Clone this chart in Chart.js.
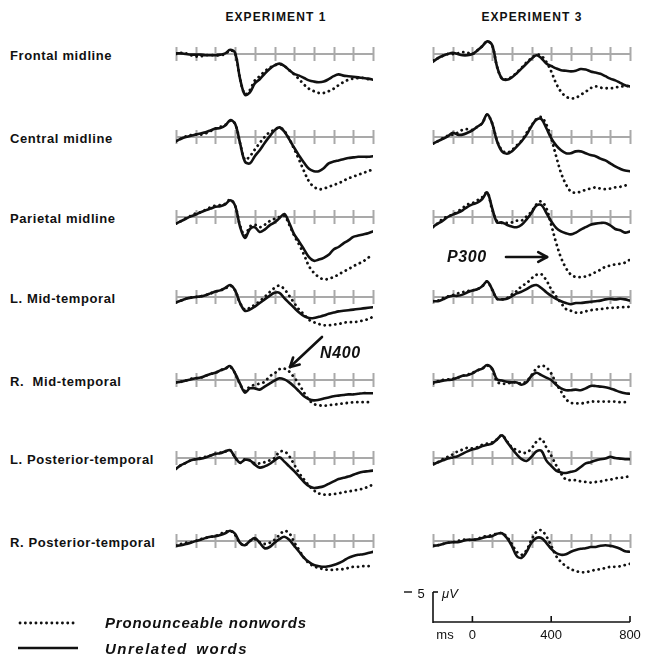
<!DOCTYPE html>
<html>
<head>
<meta charset="utf-8">
<script src="https://cdn.jsdelivr.net/npm/chart.js@4/dist/chart.umd.min.js"></script>
<style>
  html, body { margin: 0; padding: 0; background: #fff; }
  #page { position: relative; width: 646px; height: 659px; overflow: hidden; font-family: "Liberation Sans", Arial, sans-serif; color: #111; }
  #page canvas { position: absolute; }
  .lbl { position: absolute; font-weight: bold; font-size: 13px; letter-spacing: 0.6px; white-space: nowrap; transform: translateY(-50%); }
  .head { position: absolute; font-weight: bold; font-size: 12px; letter-spacing: 1.1px; white-space: nowrap; transform: translateX(-50%); }
  .anno { position: absolute; font-weight: bold; font-style: italic; font-size: 16px; letter-spacing: 0.6px; white-space: nowrap; transform: translateY(-50%); }
  .leg { position: absolute; font-weight: bold; font-style: italic; font-size: 15px; letter-spacing: 0.8px; white-space: nowrap; transform: translateY(-50%); }
  .sc { position: absolute; font-size: 13px; white-space: nowrap; transform: translate(-50%, -50%); }
  svg { position: absolute; left: 0; top: 0; }
</style>
</head>
<body>
<div id="page"></div>
<script>
// Time base (ms) shared by every waveform
const TIMES = [-200,-175,-150,-125,-100,-75,-50,-25,0,25,50,75,100,125,150,175,200,225,250,275,300,
               325,350,375,400,425,450,475,500,525,550,575,600,625,650,675,700,725,750,775,800];
const TICK_MS = [-200,-100,0,100,200,300,400,500,600,700,800];
const SCALE_MS = [0, 400, 800];

// Amplitudes in microvolts (positive plotted downward)
// Experiment 1
const frontalE1Words = [-0.1,-0.1,0,0.1,0.1,0.1,0.2,0.2,0.2,0.1,-0.1,-0.7,-0.2,4.1,6.8,6.4,4.9,4.2,3.3,2.5,1.9,1.6,2.0,2.7,3.3,3.6,4.0,4.4,4.6,4.7,4.6,4.2,3.7,3.4,3.6,3.7,3.8,3.9,4.0,4.1,4.3];
const frontalE1Nonwords = [0,-0.2,-0.1,0.2,0.4,0.4,0.2,0.2,0.2,0.2,0,-0.6,-0.1,4.1,6.7,6.0,4.4,3.7,2.9,2.3,1.9,1.7,2.0,2.7,3.4,4.2,5.1,5.8,6.2,6.5,6.5,6.2,5.8,5.2,4.7,4.3,4.1,4.0,4.0,4.2,4.3];
const centralE1Words = [0.7,0.3,0,-0.2,-0.4,-0.6,-0.8,-1.1,-1.4,-1.5,-1.9,-2.8,-2.2,1.0,4.1,4.4,3.2,2.2,1.0,-0.1,-1.1,-1.6,-0.9,0.4,1.8,3.1,4.3,5.3,5.7,5.7,5.2,4.4,4.1,3.9,3.7,3.5,3.4,3.3,3.3,3.3,3.2];
const centralE1Nonwords = [0.7,0.3,-0.1,-0.3,-0.4,-0.4,-0.6,-1.0,-1.4,-1.7,-2.0,-2.7,-2.2,1.0,3.8,3.2,2.1,1.0,0,-0.8,-1.2,-1.6,-1.0,0.3,2.0,3.8,5.7,7.4,8.3,8.7,8.6,8.3,8.0,7.7,7.3,6.9,6.6,6.3,6.0,5.7,5.4];
const parietalE1Words = [1.1,0.7,0.3,-0.1,-0.4,-0.8,-1.1,-1.4,-1.7,-1.8,-2.1,-2.8,-1.9,1.6,3.5,2.0,1.7,2.5,2.1,1.4,0.9,0.2,-0.5,1.0,2.9,4.1,5.4,6.7,7.3,7.1,6.8,6.3,5.4,5.0,4.4,3.9,3.3,3.1,2.9,2.7,2.4];
const parietalE1Nonwords = [1.1,0.7,0.2,-0.2,-0.6,-0.8,-1.2,-1.6,-1.9,-2.0,-2.2,-2.9,-1.9,1.4,3.1,1.6,1.3,1.7,1.3,0.7,0.3,0,-0.2,1.3,3.1,4.6,6.3,8.2,9.3,10.0,10.4,10.3,10.0,9.6,9.1,8.7,8.2,7.8,7.4,6.8,6.3];
const lMidTempE1Words = [0.9,0.6,0.3,0.1,0,-0.1,-0.3,-0.6,-0.9,-1.1,-1.5,-2.0,-1.1,1.0,2.3,2.1,1.6,1.0,0.4,-0.2,-0.7,-0.7,0.2,1.0,1.8,2.6,3.2,3.5,3.5,3.3,3.1,2.8,2.6,2.4,2.3,2.2,2.1,2.0,1.9,1.8,1.7];
const lMidTempE1Nonwords = [0.9,0.6,0.3,0.1,0,-0.1,-0.3,-0.6,-0.9,-1.1,-1.4,-1.9,-1.1,1.0,2.1,1.8,1.3,0.7,0,-0.8,-1.5,-1.9,-1.3,-0.2,1.0,2.1,2.9,3.8,4.2,4.5,4.7,4.7,4.6,4.5,4.3,4.2,4.2,4.1,3.9,3.7,3.3];
const rMidTempE1Words = [0.4,0.3,0.1,-0.1,-0.3,-0.4,-0.7,-1.0,-1.2,-1.6,-1.9,-2.3,-1.1,0.6,2.1,1.4,1.4,1.6,1.1,0.6,0.1,-0.3,-0.1,0.4,1.1,1.9,2.7,3.2,3.4,3.3,3.1,2.9,2.7,2.6,2.5,2.4,2.4,2.3,2.2,2.2,2.2];
const rMidTempE1Nonwords = [0.4,0.3,0.1,-0.2,-0.3,-0.4,-0.7,-1.0,-1.2,-1.6,-1.9,-2.2,-1.1,0.7,1.8,1.1,0.8,0.6,0.3,-0.6,-1.1,-1.8,-1.9,-1.4,-0.4,0.7,2.1,3.3,4.0,4.2,4.3,4.2,4.1,4.0,3.9,3.8,3.7,3.7,3.7,3.7,3.8];
const lPostTempE1Words = [1.8,1.2,0.8,0.4,0.2,0.1,-0.1,-0.4,-0.7,-0.8,-1.1,-1.3,-0.1,0.8,0.3,0.4,1.1,1.6,1.4,1.0,0.4,-0.1,0.6,1.4,2.2,3.1,4.0,4.7,5.0,4.9,4.7,4.3,3.9,3.5,3.3,3.1,2.8,2.5,2.3,2.2,2.1];
const lPostTempE1Nonwords = [1.8,1.2,0.8,0.4,0.2,0,-0.2,-0.4,-0.7,-0.9,-1.1,-1.3,-0.1,0.8,0.2,0.4,0.9,0.9,0.7,0.4,0,-1.0,-1.1,-0.3,1.1,2.5,3.6,4.6,5.4,5.9,6.1,6.1,6.0,5.9,5.7,5.6,5.4,5.3,5.1,4.8,4.4];
const rPostTempE1Words = [0.8,0.7,0.5,0.3,0,-0.2,-0.5,-0.7,-0.8,-1.0,-1.3,-1.7,-1.2,0.3,0.7,0,-0.5,0.3,1.2,1.0,0.3,-0.3,-0.7,-0.2,0.8,1.8,2.8,3.5,4.0,4.2,4.3,4.2,4.0,3.7,3.3,2.8,2.5,2.3,2.2,2.0,1.8];
const rPostTempE1Nonwords = [0.8,0.5,0.3,0.2,0,-0.3,-0.5,-0.7,-0.8,-1.2,-1.5,-1.7,-1.0,0.3,0.7,0,-0.3,0.2,0.5,0.3,-0.2,-1.0,-1.7,-1.3,0.2,1.5,2.8,3.7,4.2,4.5,4.7,4.8,4.8,4.7,4.7,4.5,4.3,4.3,4.2,4.2,4.0];

// Experiment 3
const frontalE3Words = [1.3,0.7,0.3,0,-0.2,0,0.2,0.2,0,-0.6,-1.3,-2.1,-1.5,2.1,4.1,4.3,3.9,3.2,2.4,1.6,0.8,0.2,0.7,1.6,2.0,2.4,2.7,2.8,2.9,2.8,2.5,2.6,2.9,3.1,3.3,3.7,4.1,4.4,4.8,5.2,5.4];
const frontalE3Nonwords = [1.1,0.7,0.3,0,0,-0.1,-0.3,-0.2,0,-0.6,-1.3,-2.1,-1.5,2.1,4.1,4.2,3.8,3.1,2.3,1.4,0.7,0.1,0.3,1.3,2.9,4.9,6.3,7.1,7.4,7.3,6.8,6.3,5.7,5.4,5.6,5.7,5.7,5.6,5.4,5.4,5.3];
const centralE3Words = [1.1,0.7,0.3,-0.1,-0.7,-0.4,-0.4,-0.7,-1.1,-1.7,-2.3,-3.8,-2.3,0.7,2.4,2.8,2.4,1.6,0.7,-0.4,-1.8,-2.9,-3.0,-1.5,0.2,1.4,2.2,2.7,2.7,2.4,2.4,2.7,3.0,3.2,3.6,3.9,4.4,4.9,5.3,5.6,5.7];
const centralE3Nonwords = [1.1,0.7,0.2,-0.2,-0.4,-0.7,-1.2,-1.3,-1.2,-1.7,-2.3,-3.7,-2.3,0.6,2.2,2.6,2.2,1.4,0.6,-0.7,-1.9,-3.0,-3.3,-2.1,0.2,3.2,6.0,7.9,9.1,9.3,9.1,8.8,8.6,8.4,8.6,8.7,8.6,8.4,8.3,8.1,7.9];
const parietalE3Words = [1.6,1.1,0.6,0,-0.4,-0.7,-1.1,-1.7,-2.1,-2.4,-3.0,-4.1,-1.5,0.9,0.9,1.3,1.6,1.7,1.3,0.4,-0.7,-1.9,-2.0,-0.7,0.7,1.8,2.4,2.7,2.9,2.6,2.1,1.7,1.3,1.1,1.0,1.0,1.4,2.0,2.2,2.6,2.4];
const parietalE3Nonwords = [1.7,1.0,0.3,-0.1,-0.4,-0.9,-1.5,-2.1,-2.3,-2.8,-3.3,-4.1,-1.3,0.7,1.0,1.0,0.9,0.6,0.6,-0.1,-0.9,-2.1,-2.6,-1.5,1.3,4.3,6.8,8.5,9.6,10.0,10.0,9.9,9.6,9.2,8.8,8.3,8.1,7.9,7.8,7.6,7.1];
const lMidTempE3Words = [0.7,0.7,0.4,0,-0.2,-0.2,-0.4,-0.8,-1.1,-1.3,-1.8,-2.6,-1.3,0.3,0.4,0.3,-0.1,-0.6,-0.9,-1.3,-1.8,-2.0,-1.5,-0.8,-0.2,0.3,0.7,1.0,1.2,1.0,1.0,0.9,0.8,0.7,0.6,0.4,0.3,0.4,0.3,0.4,0.6];
const lMidTempE3Nonwords = [0.7,0.6,0.2,-0.1,-0.3,-0.6,-0.8,-1.0,-1.1,-1.3,-1.8,-2.6,-1.2,0.3,0.4,0.2,-0.4,-1.0,-1.8,-2.3,-3.1,-3.7,-3.8,-2.8,-1.3,-0.1,1.0,2.0,2.3,2.6,2.6,2.4,2.2,2.1,2.0,1.9,1.8,1.8,1.7,1.7,1.6];
const rMidTempE3Words = [0.4,0.3,0.1,0,-0.1,-0.4,-0.7,-0.8,-1.1,-1.6,-1.9,-2.5,-1.9,-0.1,0.1,0.3,0.4,0.4,0.8,0.4,-0.7,-1.2,-0.8,-0.4,0,0.8,1.4,1.7,1.7,1.6,1.7,1.4,1.0,1.0,1.1,1.2,1.4,1.7,2.0,2.2,2.3];
const rMidTempE3Nonwords = [0.6,0.2,0,-0.1,-0.2,-0.4,-0.7,-0.9,-1.2,-1.6,-1.9,-2.4,-1.8,0.3,0.6,0.6,0.4,0.4,0.6,0.2,-0.8,-1.9,-2.4,-2.1,-1.1,0.6,1.9,3.2,3.8,3.9,3.9,3.8,3.6,3.6,3.6,3.6,3.6,3.6,3.7,3.7,3.7];
const lPostTempE3Words = [1.1,0.7,0.4,0.1,-0.1,-0.3,-0.7,-1.1,-1.4,-1.6,-2.0,-2.2,-2.4,-3.1,-3.8,-2.7,-1.6,-0.6,0.2,0.5,-0.2,-1.1,-1.2,0.4,1.3,2.1,2.4,2.5,2.3,2.1,1.5,0.9,0.7,0.4,0.2,0.1,-0.2,0,0.1,0.2,0.2];
const lPostTempE3Nonwords = [0.9,0.7,0.2,-0.2,-0.6,-1.1,-1.4,-1.7,-1.6,-1.8,-2.2,-2.4,-2.6,-3.1,-3.8,-2.8,-1.8,-1.3,-0.9,-0.9,-1.6,-2.7,-3.2,-1.8,-0.4,1.2,2.6,3.6,3.7,3.7,3.9,4.0,4.1,4.0,3.9,3.7,3.6,3.4,3.3,3.2,3.0];
const rPostTempE3Words = [0.8,0.7,0.5,0.3,0.2,0.2,0,-0.2,-0.2,-0.3,-0.5,-0.7,-0.8,-1.2,-1.3,-0.5,0.8,2.5,2.8,1.8,0.3,-0.5,-0.5,0.3,1.3,2.0,2.3,2.2,1.8,1.5,1.3,1.2,1.0,1.0,0.8,0.7,0.8,1.0,1.3,1.7,1.8];
const rPostTempE3Nonwords = [0.8,0.7,0.5,0.3,0.2,0,-0.2,-0.2,-0.2,-0.3,-0.7,-0.8,-1.0,-1.2,-1.3,-0.7,0.5,1.8,2.3,1.5,-0.2,-1.5,-1.8,-0.8,0.8,2.5,3.5,4.2,4.7,5.0,5.2,5.2,5.0,4.8,4.7,4.5,4.3,4.3,4.2,4.0,3.8];

const ROW_LABELS = ['Frontal midline','Central midline','Parietal midline','L. Mid-temporal',
                    'R.\u00a0\u00a0Mid-temporal','L. Posterior-temporal','R. Posterior-temporal'];
const COLUMN_TITLES = ['EXPERIMENT 1', 'EXPERIMENT 3'];
const LEGEND = ['Pronounceable nonwords', 'Unrelated words'];

const WORDS = [
  [frontalE1Words, frontalE3Words], [centralE1Words, centralE3Words], [parietalE1Words, parietalE3Words],
  [lMidTempE1Words, lMidTempE3Words], [rMidTempE1Words, rMidTempE3Words],
  [lPostTempE1Words, lPostTempE3Words], [rPostTempE1Words, rPostTempE3Words]
];
const NONWORDS = [
  [frontalE1Nonwords, frontalE3Nonwords], [centralE1Nonwords, centralE3Nonwords], [parietalE1Nonwords, parietalE3Nonwords],
  [lMidTempE1Nonwords, lMidTempE3Nonwords], [rMidTempE1Nonwords, rMidTempE3Nonwords],
  [lPostTempE1Nonwords, lPostTempE3Nonwords], [rPostTempE1Nonwords, rPostTempE3Nonwords]
];

// ---- layout ----
const page = document.getElementById('page');
const COL_X = [176, 433];              // left end of each panel's time axis
const AXIS_W = 197;                    // -200 .. 800 ms
const ROW_Y = [54, 137, 217, 297, 380, 458, 541];  // zero-voltage line of each row
const PX_PER_UV = 6;
const PAD = 4, TOP = 30, H = 112;
const INK = '#111';
const AXIS_GREY = '#a9a9a9';

// zero line with 100 ms tick marks, drawn from the panel's own scales
const timeAxisPlugin = {
  id: 'timeAxis',
  beforeDatasetsDraw(chart) {
    const { ctx, scales: { x, y } } = chart;
    const y0 = y.getPixelForValue(0);
    ctx.save();
    ctx.strokeStyle = AXIS_GREY;
    ctx.lineWidth = 2;
    ctx.beginPath();
    ctx.moveTo(x.getPixelForValue(TICK_MS[0]), y0);
    ctx.lineTo(x.getPixelForValue(TICK_MS[TICK_MS.length - 1]), y0);
    for (const t of TICK_MS) {
      const px = Math.round(x.getPixelForValue(t)) + 0.5;
      ctx.moveTo(px, y0 - 7);
      ctx.lineTo(px, y0 + 7);
    }
    ctx.stroke();
    ctx.restore();
  }
};

function series(values) {
  return TIMES.map((t, i) => ({ x: t, y: values[i] }));
}

function makePanel(row, col) {
  const cv = document.createElement('canvas');
  const w = AXIS_W + 2 * PAD;
  cv.width = w; cv.height = H;
  cv.style.width = w + 'px'; cv.style.height = H + 'px';
  cv.style.left = (COL_X[col] - PAD) + 'px';
  cv.style.top = (ROW_Y[row] - TOP) + 'px';
  page.appendChild(cv);
  new Chart(cv, {
    type: 'line',
    data: {
      datasets: [
        { label: LEGEND[1], data: series(WORDS[row][col]), borderColor: INK, borderWidth: 2.6,
          pointRadius: 0, tension: 0.35, fill: false, borderCapStyle: 'round', borderJoinStyle: 'round' },
        { label: LEGEND[0], data: series(NONWORDS[row][col]), borderColor: INK, borderWidth: 2.8,
          borderDash: [0.1, 5.2], borderCapStyle: 'round', pointRadius: 0, tension: 0.35, fill: false }
      ]
    },
    options: {
      responsive: false,
      animation: false,
      devicePixelRatio: 1,
      layout: { padding: { left: PAD, right: PAD, top: 0, bottom: 0 } },
      plugins: { legend: { display: false }, tooltip: { enabled: false } },
      events: [],
      scales: {
        x: { type: 'linear', min: TICK_MS[0], max: TICK_MS[TICK_MS.length - 1], display: false },
        y: { type: 'linear', reverse: true, min: -TOP / PX_PER_UV, max: (H - TOP) / PX_PER_UV, display: false }
      }
    },
    plugins: [timeAxisPlugin]
  });
}

for (let r = 0; r < ROW_LABELS.length; r++) {
  for (let c = 0; c < 2; c++) makePanel(r, c);
}

// ---- text ----
function addText(cls, text, left, top) {
  const d = document.createElement('div');
  d.className = cls;
  d.textContent = text;
  d.style.left = left + 'px';
  d.style.top = top + 'px';
  page.appendChild(d);
  return d;
}
addText('head', COLUMN_TITLES[0], 276, 10);
addText('head', COLUMN_TITLES[1], 532, 10);
ROW_LABELS.forEach((t, i) => addText('lbl', t, 10, ROW_Y[i] + 1));
addText('anno', 'N400', 320, 353);
addText('anno', 'P300', 447, 257);
addText('leg', LEGEND[0], 105, 622);
const leg2 = addText('leg', LEGEND[1], 105, 648);
leg2.style.letterSpacing = '1.5px';
leg2.style.wordSpacing = '3px';

// ---- arrows, legend swatches and the calibration bar ----
const NS = 'http://www.w3.org/2000/svg';
const svg = document.createElementNS(NS, 'svg');
svg.setAttribute('width', 646); svg.setAttribute('height', 659);
page.appendChild(svg);
function line(x1, y1, x2, y2, w, extra) {
  const l = document.createElementNS(NS, 'line');
  l.setAttribute('x1', x1); l.setAttribute('y1', y1);
  l.setAttribute('x2', x2); l.setAttribute('y2', y2);
  l.setAttribute('stroke', INK); l.setAttribute('stroke-width', w);
  if (extra) for (const k in extra) l.setAttribute(k, extra[k]);
  svg.appendChild(l);
}
function arrow(x1, y1, x2, y2) {
  line(x1, y1, x2, y2, 2.6, { 'stroke-linecap': 'round' });
  const a = Math.atan2(y2 - y1, x2 - x1), L = 10, s = 0.5;
  line(x2, y2, x2 - L * Math.cos(a - s), y2 - L * Math.sin(a - s), 2.6, { 'stroke-linecap': 'round' });
  line(x2, y2, x2 - L * Math.cos(a + s), y2 - L * Math.sin(a + s), 2.6, { 'stroke-linecap': 'round' });
}
arrow(322, 337, 290, 367);
arrow(506, 257, 547, 257);

line(20, 623, 78, 623, 2.8, { 'stroke-dasharray': '0.1 5.2', 'stroke-linecap': 'round' });
line(18, 648, 78, 648, 2.6);

// calibration: 5 µV vertical, 0-800 ms horizontal
const calX0 = COL_X[1];
const msToX = ms => calX0 + (ms - TICK_MS[0]) * AXIS_W / (TICK_MS[TICK_MS.length - 1] - TICK_MS[0]);
const calY0 = 622;
line(calX0, calY0 - 5 * PX_PER_UV, calX0, calY0 + 1, 1.6);
line(calX0, calY0 - 5 * PX_PER_UV, calX0 + 5, calY0 - 5 * PX_PER_UV, 1.6);
line(calX0, calY0, msToX(800), calY0, 1.6);
for (const ms of SCALE_MS) line(msToX(ms), calY0 - 6, msToX(ms), calY0, 1.6);
line(404, calY0 - 5 * PX_PER_UV, 412, calY0 - 5 * PX_PER_UV, 1.4);
addText('sc', '5', 421, calY0 - 5 * PX_PER_UV + 1);
const uv = addText('sc', '\u03bcV', 450, calY0 - 5 * PX_PER_UV + 1);
uv.style.fontStyle = 'italic';
addText('sc', 'ms', 445, 634);
SCALE_MS.forEach(ms => addText('sc', String(ms), msToX(ms), 634));
</script>
</body>
</html>
